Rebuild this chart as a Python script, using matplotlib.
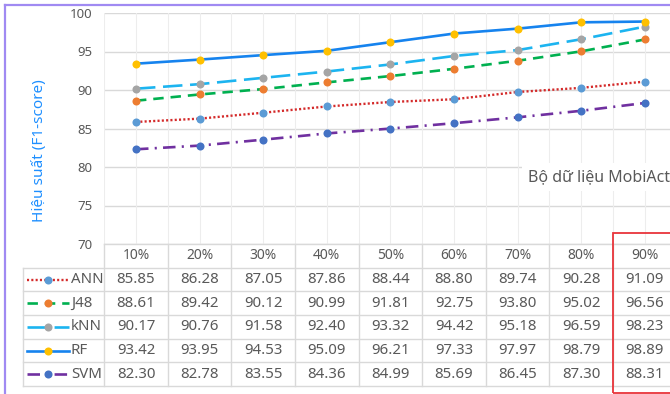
import numpy as np
import matplotlib
matplotlib.use('Agg')
import matplotlib.pyplot as plt
from matplotlib.lines import Line2D
from matplotlib.patches import Rectangle

plt.rcParams['font.family'] = ['Noto Sans', 'DejaVu Sans']
plt.rcParams['lines.scale_dashes'] = False

# ---- data -------------------------------------------------------------
categories = ['10%', '20%', '30%', '40%', '50%', '60%', '70%', '80%', '90%']
ann = [85.85, 86.28, 87.05, 87.86, 88.44, 88.80, 89.74, 90.28, 91.09]
j48 = [88.61, 89.42, 90.12, 90.99, 91.81, 92.75, 93.80, 95.02, 96.56]
knn = [90.17, 90.76, 91.58, 92.40, 93.32, 94.42, 95.18, 96.59, 98.23]
rf = [93.42, 93.95, 94.53, 95.09, 96.21, 97.33, 97.97, 98.79, 98.89]
svm = [82.30, 82.78, 83.55, 84.36, 84.99, 85.69, 86.45, 87.30, 88.31]
series_names = ['ANN', 'J48', 'kNN', 'RF', 'SVM']
series_values = [ann, j48, knn, rf, svm]
y_ticks = [70, 75, 80, 85, 90, 95, 100]

# ---- styles -------------------------------------------------------------
styles = {
    'ANN': dict(color='#D42A2A', ls=(0, (1.5, 1.6)), lw=1.7, mfc='#5B9BD5'),
    'J48': dict(color='#00B050', ls=(0, (7.5, 5.0)), lw=1.9, mfc='#ED7D31'),
    'kNN': dict(color='#1CB4F0', ls=(0, (14.0, 5.5)), lw=1.9, mfc='#A5A5A5'),
    'RF':  dict(color='#1683EE', ls='-', lw=1.9, mfc='#FFC000'),
    'SVM': dict(color='#7030A0', ls=(0, (9.0, 4.5, 1.5, 4.5)), lw=1.9, mfc='#4472C4'),
}

W, H = 670, 394
fig = plt.figure(figsize=(W / 100, H / 100), dpi=100)
fig.patch.set_facecolor('white')

x0_px, step = 104.2, 63.6
n = len(categories)
xs = np.arange(n)
ms = 5.8

# ---- chart area ---------------------------------------------------------
ax = fig.add_axes([x0_px / W, (H - 244) / H, n * step / W, 231 / H])
ax.set_xlim(-0.5, n - 0.5)
ax.set_ylim(70, 100)
for s in ax.spines.values():
    s.set_visible(False)
ax.set_xticks([])
ax.set_yticks(y_ticks)
ax.tick_params(axis='y', length=0, pad=8.5, labelsize=9.5, labelcolor='#595959')
for yv in y_ticks:
    ax.axhline(yv, color='#D9D9D9', lw=1.0, zorder=0)
for v in np.arange(-0.5, n, 0.5):
    ax.axvline(v, color='#EDEDED', lw=0.8, zorder=0)

for name, vals in zip(series_names, series_values):
    st = styles[name]
    ax.plot(xs, vals, color=st['color'], ls=st['ls'], lw=st['lw'],
            dash_capstyle='butt', zorder=3, clip_on=False)
    ax.plot(xs, vals, ls='none', marker='o', ms=ms, mfc=st['mfc'],
            mec=st['mfc'], mew=0, zorder=4, clip_on=False)

# ---- data table ---------------------------------------------------------
def xd(px):
    return (px - x0_px) / step - 0.5

left = xd(23)
tax = fig.add_axes([23 / W, (H - 386) / H, (x0_px + n * step - 23) / W, 142 / H])
tax.set_xlim(left, n - 0.5)
tax.set_ylim(6, 0)
tax.axis('off')

grid_c = '#D9D9D9'
tax.plot([-0.5, n - 0.5], [0, 0], color=grid_c, lw=1.0, clip_on=False)
for r in range(1, 7):
    tax.plot([left, n - 0.5], [r, r], color=grid_c, lw=1.0, clip_on=False)
tax.plot([left, left], [1, 6], color=grid_c, lw=1.0, clip_on=False)
for b in np.arange(-0.5, n, 1.0):
    tax.plot([b, b], [0, 6], color=grid_c, lw=1.0, clip_on=False)

txt_c = '#595959'
for i, c in enumerate(categories):
    tax.text(i, 0.5, c, ha='center', va='center', fontsize=10, color=txt_c)

for r, (name, vals) in enumerate(zip(series_names, series_values)):
    yc = r + 1.5
    st = styles[name]
    for i, v in enumerate(vals):
        tax.text(i, yc, f'{v:.2f}', ha='center', va='center', fontsize=10.8, color=txt_c)
    tax.plot([xd(27), xd(69)], [yc, yc], color=st['color'], ls=st['ls'],
             lw=st['lw'], dash_capstyle='butt')
    tax.plot([xd(48)], [yc], ls='none', marker='o', ms=ms, mfc=st['mfc'],
             mec=st['mfc'], mew=0)
    tax.text(xd(71), yc, name, ha='left', va='center', fontsize=10.8, color=txt_c)

# ---- labels ---------------------------------------------------------------
fig.text(40 / W, 1 - 151 / H, 'Hiệu suất (F1-score)', rotation=90,
         ha='center', va='center', fontsize=11, color='#1E8FFF')
fig.text(528 / W, 1 - 177 / H, 'Bộ dữ liệu MobiAct', ha='left', va='center',
         fontsize=11.5, color=txt_c,
         bbox=dict(facecolor='white', edgecolor='none', pad=4))

# highlight box around the last column
fig.add_artist(Rectangle((613 / W, (H - 393) / H), 100 / W, 160 / H,
                         transform=fig.transFigure, fill=False,
                         ec='#E8343A', lw=1.3))

# outer frame
frame_c = '#A08AF2'
fig.add_artist(Line2D([4.5 / W, 4.5 / W], [0, 1 - 4.5 / H], color=frame_c,
                      lw=1.6, transform=fig.transFigure))
fig.add_artist(Line2D([4.5 / W, 1], [1 - 4.5 / H, 1 - 4.5 / H], color=frame_c,
                      lw=1.6, transform=fig.transFigure))

fig.savefig('out.png', dpi=100)
